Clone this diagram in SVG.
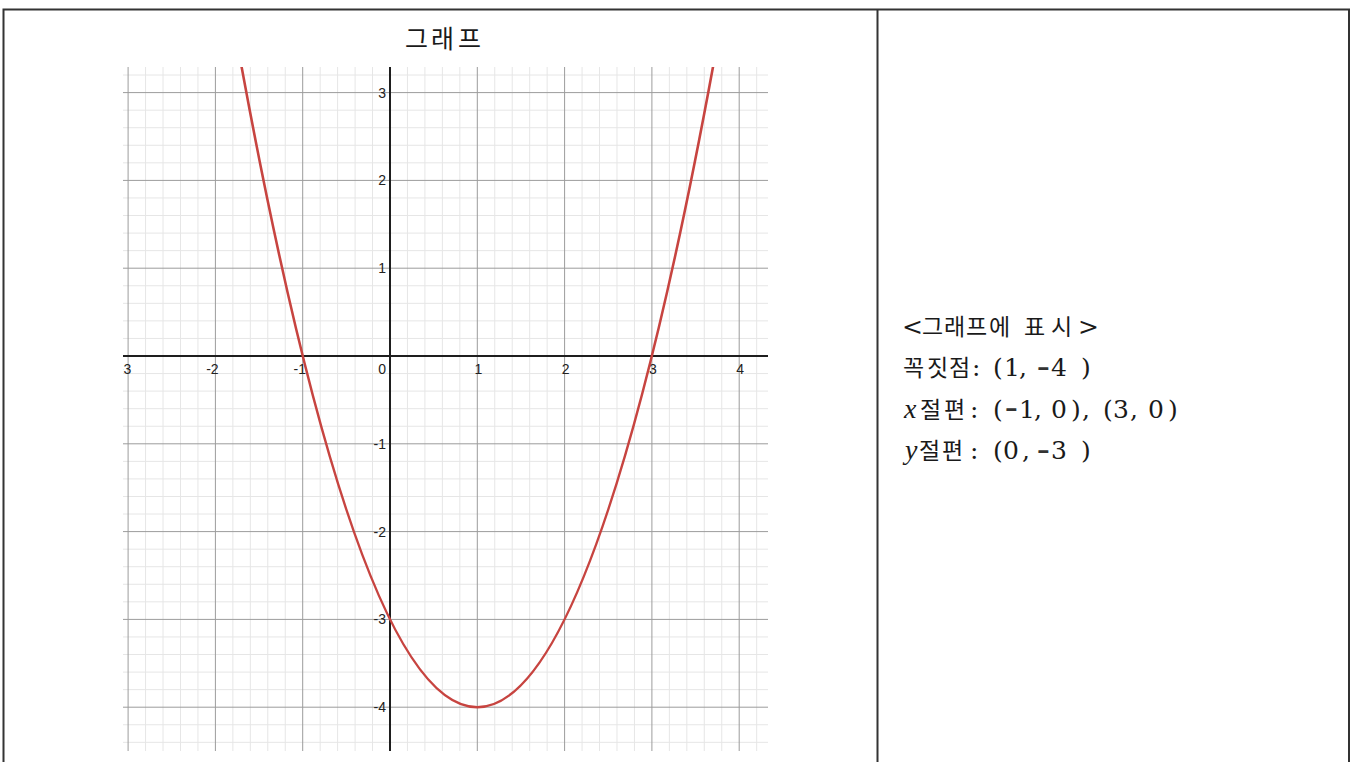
<svg xmlns="http://www.w3.org/2000/svg" width="1356" height="762" viewBox="0 0 1356 762">
<style>
.border{stroke:#333;stroke-width:2;fill:none}
.minor{stroke:#e6e6e6;stroke-width:1;fill:none}
.major{stroke:#9c9c9c;stroke-width:1;fill:none}
.axis{stroke:#1e1e1e;stroke-width:2;fill:none}
.tick{font-family:"Liberation Sans",Arial,sans-serif;font-size:14px;fill:#222}
.curve{stroke:#c74440;stroke-width:2.6;fill:none;stroke-linecap:round}
.kr{font-family:"Noto Sans CJK KR",sans-serif;font-size:23px;fill:#1a1a1a}
.lat{font-family:"DejaVu Serif","Liberation Serif",serif;font-size:25px;fill:#1a1a1a}
.hy{font-family:"Liberation Serif",serif;font-size:38px;fill:#333}
.it{font-family:"Liberation Serif",serif;font-style:italic;font-size:28px;fill:#1a1a1a}
.title{font-family:"Noto Sans CJK KR",sans-serif;font-size:25px;fill:#1a1a1a}
</style>
<defs>
<clipPath id="plotclip"><rect x="123" y="67" width="645" height="684"/></clipPath>
</defs>
<rect width="1356" height="762" fill="#fff"/>
<g id="table">
<path class="border" d="M3.5 762 V9.5 H1349 V762 M877.5 9.5 V762"/>
</g>
<g id="title">
<text class="title" x="405 431 458" y="48">그래프</text>
</g>
<g id="graph" clip-path="url(#plotclip)">
<rect x="123" y="67" width="645" height="684" fill="#fff"/>
<path class="minor" d="M145.56 67V751M163.02 67V751M180.48 67V751M197.94 67V751M232.86 67V751M250.32 67V751M267.78 67V751M285.24 67V751M320.16 67V751M337.62 67V751M355.08 67V751M372.54 67V751M407.46 67V751M424.92 67V751M442.38 67V751M459.84 67V751M494.76 67V751M512.22 67V751M529.68 67V751M547.14 67V751M582.06 67V751M599.52 67V751M616.98 67V751M634.44 67V751M669.36 67V751M686.82 67V751M704.28 67V751M721.74 67V751M756.66 67V751
M123 75.04H768M123 110.16H768M123 127.72H768M123 145.28H768M123 162.84H768M123 197.96H768M123 215.52H768M123 233.08H768M123 250.64H768M123 285.76H768M123 303.32H768M123 320.88H768M123 338.44H768M123 373.56H768M123 391.12H768M123 408.68H768M123 426.24H768M123 461.36H768M123 478.92H768M123 496.48H768M123 514.04H768M123 549.16H768M123 566.72H768M123 584.28H768M123 601.84H768M123 636.96H768M123 654.52H768M123 672.08H768M123 689.64H768M123 724.76H768M123 742.32H768"/>
<path class="major" d="M128.1 67V751M215.4 67V751M302.7 67V751M477.3 67V751M564.6 67V751M651.9 67V751M739.2 67V751
M123 92.6H768M123 180.4H768M123 268.2H768M123 443.8H768M123 531.6H768M123 619.4H768M123 707.2H768"/>
<path class="axis" d="M123 356H768M390 67V751"/>
<g id="ticks">
<text class="tick" x="386" y="97.6" text-anchor="end">3</text>
<text class="tick" x="386" y="185.4" text-anchor="end">2</text>
<text class="tick" x="386" y="273.2" text-anchor="end">1</text>
<text class="tick" x="386" y="448.8" text-anchor="end">-1</text>
<text class="tick" x="386" y="536.6" text-anchor="end">-2</text>
<text class="tick" x="386" y="624.4" text-anchor="end">-3</text>
<text class="tick" x="386" y="712.2" text-anchor="end">-4</text>
<text class="tick" x="386" y="374" text-anchor="end">0</text>
<text class="tick" x="125" y="374" text-anchor="middle">-3</text>
<text class="tick" x="212.4" y="374" text-anchor="middle">-2</text>
<text class="tick" x="299.7" y="374" text-anchor="middle">-1</text>
<text class="tick" x="478.3" y="374" text-anchor="middle">1</text>
<text class="tick" x="565.6" y="374" text-anchor="middle">2</text>
<text class="tick" x="652.9" y="374" text-anchor="middle">3</text>
<text class="tick" x="740.2" y="374" text-anchor="middle">4</text>
</g>
<path class="curve" d="M232.9 18.8 Q477.3 1395.6 721.7 18.8"/>
</g>
<g id="info">
<text y="334.5"><tspan class="lat" x="902">&lt;</tspan><tspan class="kr" x="922 944 966 989 1012 1024 1051">그래프에 표시</tspan><tspan class="lat" x="1078">&gt;</tspan></text>
<text y="376"><tspan class="kr" x="903 927 949">꼭짓점</tspan><tspan class="lat" x="972 982 993 1004 1019 1028">: (1, </tspan><tspan class="hy" x="1037" dy="1.5">-</tspan><tspan class="lat" x="1051 1081" dy="-1.5">4)</tspan></text>
<text y="417.7"><tspan class="it" x="904">x</tspan><tspan class="kr" x="920 944">절편</tspan><tspan class="lat" x="970 982 993">: (</tspan><tspan class="hy" x="1005" dy="1.5">-</tspan><tspan class="lat" x="1019 1034 1043 1051 1071 1082 1094 1103 1113 1130 1140 1148 1168" dy="-1.5">1, 0), (3, 0)</tspan></text>
<text y="459.4"><tspan class="it" x="905">y</tspan><tspan class="kr" x="919 942">절편</tspan><tspan class="lat" x="970 982 993 1003 1022 1030">: (0, </tspan><tspan class="hy" x="1037" dy="1.5">-</tspan><tspan class="lat" x="1051 1081" dy="-1.5">3)</tspan></text>
</g>
</svg>
